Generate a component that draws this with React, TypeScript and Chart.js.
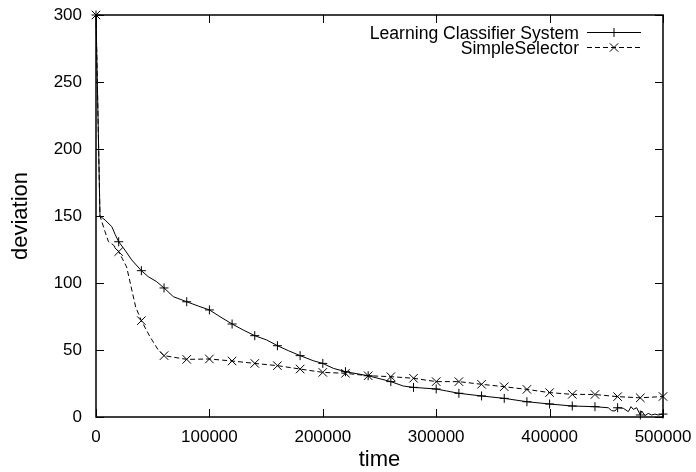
import { useEffect, useRef } from 'react';
import { Chart, registerables } from 'chart.js';

Chart.register(...registerables);

// ---- data ----
const seriesNames = ['Learning Classifier System', 'SimpleSelector'];
const xTitle = 'time';
const yTitle = 'deviation';
const xTickValues = [0, 100000, 200000, 300000, 400000, 500000];
const yTickValues = [0, 50, 100, 150, 200, 250, 300];
const markerStep = 20000;

const lcsX = [
  0, 3500, 8000, 14000, 17000, 20000, 25500, 31500, 40000, 46100, 53500, 60000,
  68200, 80000, 90200, 100000, 109300, 120000, 129900, 140000, 150500, 160000,
  169600, 180000, 191600, 200000, 209300, 220000, 240000, 260000, 271000, 280000,
  300000, 309300, 320000, 340000, 360000, 380000, 400000, 420000, 440000, 451800,
  454700, 457700, 460000, 465000, 469400, 471800, 473800, 476800, 480000, 481200,
  484100, 487000, 490000, 492900, 495800, 500000,
];
const lcsY = [
  300, 150, 147, 142, 136, 130.8, 124.6, 117.2, 109.2, 104.7, 101, 96.3,
  89.8, 86, 82.8, 79.9, 74.9, 69.4, 64.9, 60.7, 57.5, 53.2,
  49.5, 45.8, 42, 40, 36.3, 33.8, 30.8, 26.4, 23.1, 22.1,
  20.9, 19.4, 17.7, 15.7, 13.9, 11.4, 9.7, 8.2, 7.7, 6.9,
  4.7, 4.5, 6.9, 6.5, 4, 7.7, 5.7, 6.9, 1.5, 4.5,
  1, 2.7, 1.5, 2.2, 1.5, 2.2,
];

const ssX = [
  0, 3500, 8000, 11000, 15300, 20000, 27000, 35000, 40000, 47600, 54900, 60000,
  80000, 100000, 120000, 140000, 160000, 180000, 200000, 220000, 240000, 260000,
  280000, 300000, 320000, 340000, 360000, 380000, 400000, 420000, 440000, 460000,
  480000, 500000,
];
const ssY = [
  300, 150, 138.3, 130.8, 128.4, 123.4, 112, 82, 71.9, 59.9, 50, 45.8,
  43, 43.3, 41.8, 40, 38.3, 35.8, 33.3, 32.6, 30.8, 30.1,
  28.9, 26.4, 26.4, 24.4, 22.6, 20.6, 18.2, 16.9, 16.8, 15.2,
  14.3, 15.3,
];

const FONT = "'Liberation Sans', Arial, Helvetica, sans-serif";

function drawMarker(ctx: CanvasRenderingContext2D, style: string, x: number, y: number) {
  ctx.beginPath();
  if (style === 'cross') {
    ctx.moveTo(x - 4.5, y);
    ctx.lineTo(x + 4.5, y);
    ctx.moveTo(x, y - 4.5);
    ctx.lineTo(x, y + 4.5);
  } else {
    ctx.moveTo(x - 4.2, y - 4.2);
    ctx.lineTo(x + 4.2, y + 4.2);
    ctx.moveTo(x - 4.2, y + 4.2);
    ctx.lineTo(x + 4.2, y - 4.2);
  }
  ctx.stroke();
}

function zeroPadding(s: any) {
  s.paddingTop = 0;
  s.paddingBottom = 0;
  s.paddingLeft = 0;
  s.paddingRight = 0;
}

export default function App() {
  const ref = useRef<HTMLCanvasElement>(null);

  useEffect(() => {
    if (!ref.current) return;
    const toPts = (xs: number[], ys: number[]) => xs.map((x, i) => ({ x, y: ys[i] }));
    const markerRadius = (r: number) => (ctx: any) =>
      ctx.raw && ctx.raw.x % markerStep === 0 ? r : 0;

    const framePlugin = {
      id: 'frame',
      beforeDatasetsDraw(chart: any) {
        const { ctx, chartArea: a, scales } = chart;
        ctx.save();
        ctx.strokeStyle = '#000';
        ctx.lineWidth = 1;
        for (const v of xTickValues) {
          const px = Math.round(scales.x.getPixelForValue(v)) + 0.5;
          ctx.beginPath();
          ctx.moveTo(px, a.bottom);
          ctx.lineTo(px, a.bottom - 8);
          ctx.moveTo(px, a.top);
          ctx.lineTo(px, a.top + 8);
          ctx.stroke();
        }
        for (const v of yTickValues) {
          const py = Math.round(scales.y.getPixelForValue(v)) + 0.5;
          ctx.beginPath();
          ctx.moveTo(a.left, py);
          ctx.lineTo(a.left + 8, py);
          ctx.moveTo(a.right, py);
          ctx.lineTo(a.right - 8, py);
          ctx.stroke();
        }
        ctx.lineWidth = 1.5;
        ctx.strokeRect(a.left, a.top, a.right - a.left, a.bottom - a.top);
        ctx.restore();
      },
      afterDraw(chart: any) {
        const { ctx } = chart;
        ctx.save();
        ctx.fillStyle = '#000';
        ctx.strokeStyle = '#000';
        ctx.lineWidth = 1;
        ctx.font = `17.6px ${FONT}`;
        ctx.textAlign = 'right';
        ctx.textBaseline = 'alphabetic';
        const rows = [
          { y: 38.5, ly: 32.5, dash: [] as number[], style: 'cross' },
          { y: 53.5, ly: 47.5, dash: [5, 3], style: 'crossRot' },
        ];
        rows.forEach((r, i) => {
          ctx.fillText(seriesNames[i], 579, r.y);
          ctx.setLineDash(r.dash);
          ctx.beginPath();
          ctx.moveTo(587, r.ly);
          ctx.lineTo(641, r.ly);
          ctx.stroke();
          ctx.setLineDash([]);
          drawMarker(ctx, r.style, 614, r.ly);
        });
        ctx.restore();
      },
    };

    const tickFont = { family: FONT, size: 17 };
    const titleFont = { family: FONT, size: 22, lineHeight: 1 };

    const chart = new Chart(ref.current, {
      type: 'line',
      data: {
        datasets: [
          {
            label: seriesNames[0],
            data: toPts(lcsX, lcsY),
            borderColor: '#000',
            backgroundColor: '#000',
            borderWidth: 1,
            pointStyle: 'cross',
            pointRadius: markerRadius(4.5),
            pointHoverRadius: markerRadius(4.5),
            pointBorderColor: '#000',
            pointBorderWidth: 1,
            tension: 0,
            fill: false,
            clip: false as any,
          },
          {
            label: seriesNames[1],
            data: toPts(ssX, ssY),
            borderColor: '#000',
            backgroundColor: '#000',
            borderWidth: 1,
            borderDash: [5, 3],
            pointStyle: 'crossRot',
            pointRadius: markerRadius(6),
            pointHoverRadius: markerRadius(6),
            pointBorderColor: '#000',
            pointBorderWidth: 1,
            tension: 0,
            fill: false,
            clip: false as any,
          },
        ],
      },
      options: {
        animation: false,
        responsive: false,
        maintainAspectRatio: false,
        events: [],
        layout: { padding: { top: 15, right: 33, left: 0, bottom: 0 } },
        plugins: {
          legend: { display: false },
          tooltip: { enabled: false },
        },
        scales: {
          x: {
            type: 'linear',
            min: 0,
            max: 500000,
            afterBuildTicks: (s: any) => {
              s.ticks = xTickValues.map((v) => ({ value: v }));
            },
            afterFit: (s: any) => {
              s.height = 55;
              zeroPadding(s);
            },
            grid: { display: false, drawTicks: false, tickLength: 0 },
            border: { display: false },
            ticks: {
              font: tickFont,
              color: '#000',
              padding: 10,
              maxRotation: 0,
              autoSkip: false,
              callback: (v: any) => String(v),
            },
            title: {
              display: true,
              text: xTitle,
              color: '#000',
              font: titleFont,
              padding: { top: 0, bottom: 1.5 },
            },
          },
          y: {
            type: 'linear',
            min: 0,
            max: 300,
            afterBuildTicks: (s: any) => {
              s.ticks = yTickValues.map((v) => ({ value: v }));
            },
            afterFit: (s: any) => {
              s.width = 96;
              zeroPadding(s);
            },
            grid: { display: false, drawTicks: false, tickLength: 0 },
            border: { display: false },
            ticks: {
              font: tickFont,
              color: '#000',
              padding: 14,
              autoSkip: false,
              callback: (v: any) => String(v),
            },
            title: {
              display: true,
              text: yTitle,
              color: '#000',
              font: titleFont,
              padding: { top: 10, bottom: 0 },
            },
          },
        },
      },
      plugins: [framePlugin],
    } as any);

    return () => chart.destroy();
  }, []);

  return (
    <div style={{ position: 'fixed', left: 0, top: 0, width: 696, height: 472, background: '#fff' }}>
      <canvas ref={ref} width={696} height={472} style={{ display: 'block', width: 696, height: 472 }} />
    </div>
  );
}
